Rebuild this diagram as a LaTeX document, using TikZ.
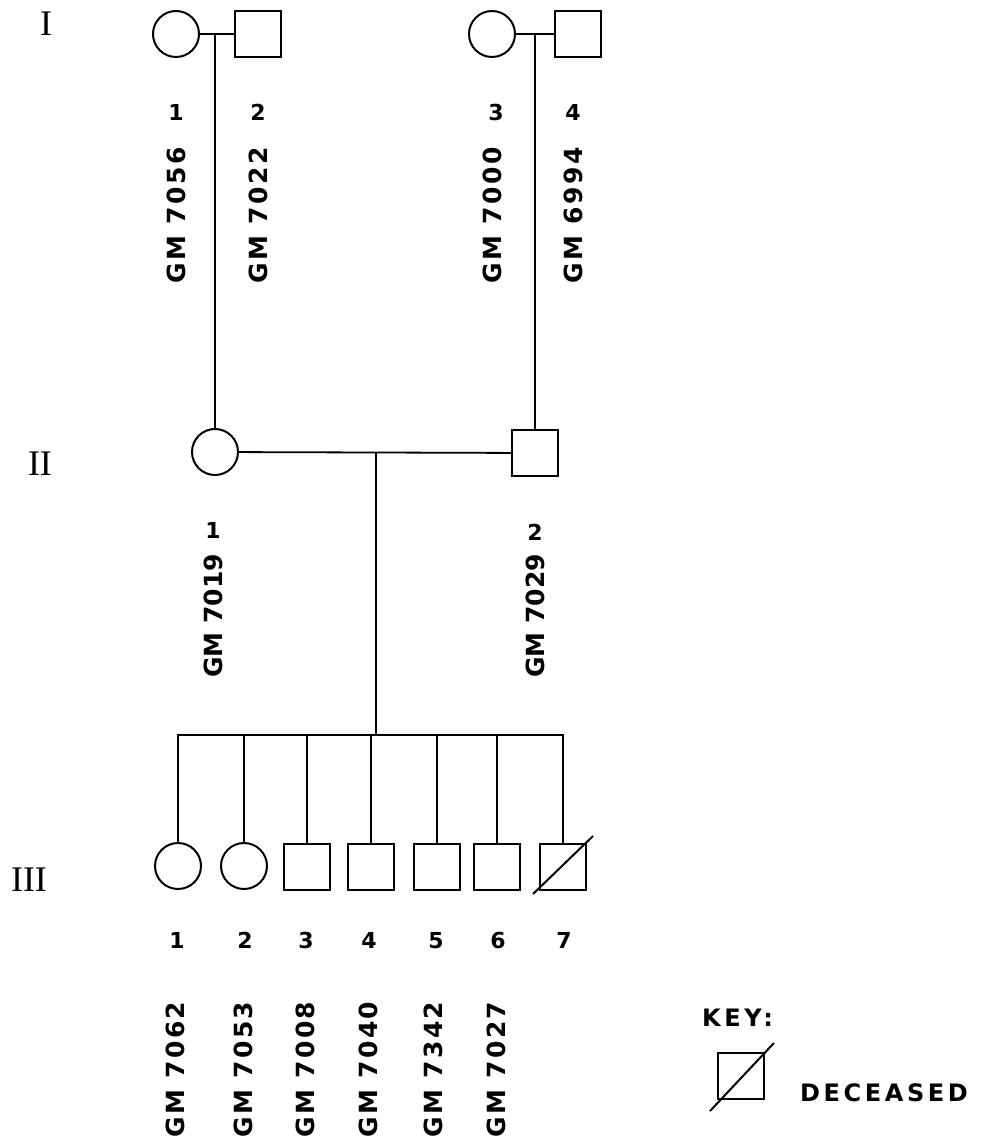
\documentclass[tikz,border=0pt]{standalone}
\usepackage{fontspec}
\newfontfamily\labfont[LetterSpace=10]{DejaVu Sans Bold}
\newfontfamily\labtight[LetterSpace=0]{DejaVu Sans Bold}
\newfontfamily\keyfont[LetterSpace=15]{DejaVu Sans Bold}
\newfontfamily\romfont{Liberation Serif}
\begin{document}
\begin{tikzpicture}[x=1pt,y=-1pt,
  female/.style={circle,draw,line width=2pt,minimum size=46pt,inner sep=0pt},
  male/.style={rectangle,draw,line width=2pt,minimum size=46pt,inner sep=0pt},
  conn/.style={line width=1.8pt},
  num/.style={font=\labfont\fontsize{22}{26}\selectfont,inner sep=0pt},
  idlab/.style={font=\labfont\fontsize{25}{29}\selectfont,inner sep=0pt,rotate=90,anchor=west},
  idlabt/.style={font=\labtight\fontsize{25}{29}\selectfont,inner sep=0pt,rotate=90,anchor=west},
  gen/.style={font=\romfont\fontsize{36}{40}\selectfont,inner sep=0pt},
  keytxt/.style={font=\keyfont\fontsize{24}{28}\selectfont,inner sep=0pt,anchor=west}]
\useasboundingbox (0,0) rectangle (989,1147);
% generation labels
\node[gen] (g1) at (46,24) {I};
\node[gen] (g2) at (40,464) {II};
\node[gen] (g3) at (29,880) {III};
% generation I
\node[female] (i1) at (176,34) {};
\node[male] (i2) at (258,34) {};
\node[female] (i3) at (492,34) {};
\node[male] (i4) at (578,34) {};
\coordinate (m1) at (215,34);
\coordinate (m2) at (535,34);
\draw[conn] (i1) -- (i2);
\draw[conn] (i3) -- (i4);
\node[num] (n11) at (176,112) {1};
\node[num] (n12) at (258,112) {2};
\node[num] (n13) at (496,112) {3};
\node[num] (n14) at (573,112) {4};
\node[idlab] (l11) at (176,284) {GM 7056};
\node[idlab] (l12) at (258,284) {GM 7022};
\node[idlab] (l13) at (492,284) {GM 7000};
\node[idlab] (l14) at (573,284) {GM 6994};
% generation II
\node[female] (ii1) at (215,452) {};
\node[male] (ii2) at (535,453) {};
\draw[conn] (m1) -- (ii1.north);
\draw[conn] (m2) -- (ii2.north);
\draw[conn] (ii1) -- (ii2);
\coordinate (m3) at (376,452);
\node[num] (n21) at (213,530) {1};
\node[num] (n22) at (535,532) {2};
\node[idlabt] (l21) at (213,678) {GM 7019};
\node[idlabt] (l22) at (535,678) {GM 7029};
% generation III
\node[female] (iii1) at (178,866) {};
\node[female] (iii2) at (244,866) {};
\node[male] (iii3) at (307,867) {};
\node[male] (iii4) at (371,867) {};
\node[male] (iii5) at (437,867) {};
\node[male] (iii6) at (497,867) {};
\node[male] (iii7) at (563,867) {};
\coordinate (s) at (376,735);
\draw[conn] (m3) -- (s);
\draw[conn] (iii1.north) -- (iii1.north |- s) -- (iii7.north |- s) -- (iii7.north);
\foreach \k in {2,3,4,5,6}{\draw[conn] (iii\k.north) -- (iii\k.north |- s);}
\draw[conn,line width=2pt] ([shift={(-30,27)}]iii7.center) -- ([shift={(30,-31)}]iii7.center);
\node[num] (n31) at (177,940) {1};
\node[num] (n32) at (245,940) {2};
\node[num] (n33) at (306,940) {3};
\node[num] (n34) at (369,940) {4};
\node[num] (n35) at (436,941) {5};
\node[num] (n36) at (498,940) {6};
\node[num] (n37) at (564,940) {7};
\node[idlab] (l31) at (175,1138) {GM 7062};
\node[idlab] (l32) at (243,1138) {GM 7053};
\node[idlab] (l33) at (305,1138) {GM 7008};
\node[idlab] (l34) at (368,1138) {GM 7040};
\node[idlab] (l35) at (433,1138) {GM 7342};
\node[idlab] (l36) at (496,1138) {GM 7027};
% key
\node[keytxt] (key) at (702,1018) {KEY:};
\node[rectangle,draw,line width=2pt,minimum size=46pt,inner sep=0pt] (ks) at (741,1076) {};
\draw[conn,line width=2pt] ([shift={(-31,35)}]ks.center) -- ([shift={(33,-33)}]ks.center);
\node[keytxt] (dec) at (800,1093) {DECEASED};
\end{tikzpicture}
\end{document}
